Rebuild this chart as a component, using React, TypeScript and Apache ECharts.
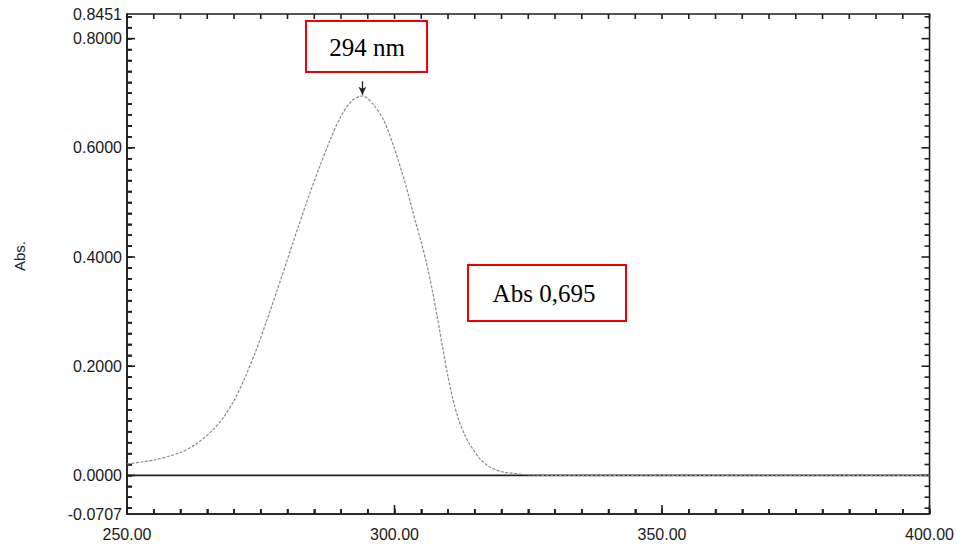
import React, { useEffect, useRef } from "react";
import * as echarts from "echarts";

// Spectrum: wavelength (nm) and absorbance
const wavelengths = [250, 255, 260, 263, 266, 268, 270, 272, 274, 276, 278, 280, 282, 284, 286, 288, 290, 292, 294, 296, 298, 300, 302, 304, 305, 306, 307, 308, 309, 310, 311, 312, 313, 314, 316, 318, 320, 322, 325, 330, 400];
const absorbance = [0.021, 0.028, 0.042, 0.058, 0.083, 0.106, 0.137, 0.178, 0.226, 0.280, 0.337, 0.396, 0.455, 0.512, 0.565, 0.615, 0.658, 0.686, 0.695, 0.680, 0.650, 0.598, 0.535, 0.462, 0.427, 0.388, 0.342, 0.290, 0.234, 0.181, 0.136, 0.102, 0.077, 0.058, 0.030, 0.014, 0.007, 0.004, 0.001, 0, 0];

const xMin = 250;
const xMax = 400;
const xLabelStep = 50;
const xTickStep = 5;
const yMin = -0.0707;
const yMax = 0.8451;
const yLabelValues = [-0.0707, 0, 0.2, 0.4, 0.6, 0.8, 0.8451];
const yMajorStep = 0.2;
const yTickStep = 0.02;

const xTicks: number[] = [];
for (let v = xMin; v <= xMax; v += xTickStep) xTicks.push(v);
const yTicks: number[] = [];
for (let i = Math.ceil(yMin / yTickStep); i * yTickStep <= yMax; i++) yTicks.push(Math.round(i * yTickStep * 1000) / 1000);

const baselineX = [250, 400];
const baselineY = [0, 0];

const peakWavelength = 294;
const peakAbs = 0.695;
const peakLabel = "294 nm";
const absLabel = "Abs 0,695";

const AXIS_COLOR = "#1e1e1e";
const FONT = "'Liberation Sans', Arial, sans-serif";

const isMultiple = (v: number, step: number) => Math.abs(v / step - Math.round(v / step)) < 1e-6;

// one custom series per frame side; each item draws a single inward tick line
const tickSeries = (side: "bottom" | "top" | "left" | "right") => {
  const horizontal = side === "bottom" || side === "top";
  const values = horizontal ? xTicks : yTicks;
  return {
    type: "custom",
    data: values.map((v) => (horizontal ? [v, 0.4] : [325, v])),
    renderItem: (_p: any, api: any) => {
      if (horizontal) {
        const v = api.value(0);
        const len = side === "bottom" && isMultiple(v - xMin, xLabelStep) ? 9 : 5;
        const p = api.coord([v, side === "bottom" ? yMin : yMax]);
        const dir = side === "bottom" ? -1 : 1;
        return { type: "line", shape: { x1: p[0], y1: p[1], x2: p[0], y2: p[1] + dir * len }, style: { stroke: AXIS_COLOR, lineWidth: 1.6 } };
      }
      const v = api.value(1);
      const len = isMultiple(v, yMajorStep) ? 8 : 5;
      const p = api.coord([side === "left" ? xMin : xMax, v]);
      const dir = side === "left" ? 1 : -1;
      return { type: "line", shape: { x1: p[0], y1: p[1], x2: p[0] + dir * len, y2: p[1] }, style: { stroke: AXIS_COLOR, lineWidth: 1.6 } };
    },
  };
};

export default function App() {
  const ref = useRef<HTMLDivElement>(null);
  useEffect(() => {
    if (!ref.current) return;
    const chart = echarts.init(ref.current, undefined, { renderer: "svg" });

    const data = wavelengths.map((w, i) => [w, absorbance[i]]);
    const baseline = baselineX.map((x, i) => [x, baselineY[i]]);

    chart.setOption({
      animation: false,
      grid: {
        left: 127,
        right: 27,
        top: 14,
        bottom: 30,
        show: true,
        borderColor: AXIS_COLOR,
        borderWidth: 1.6,
      },
      xAxis: {
        type: "value",
        min: xMin,
        max: xMax,
        interval: xTickStep,
        splitLine: { show: false },
        axisLine: { show: true, onZero: false, lineStyle: { color: AXIS_COLOR, width: 1.6 } },
        axisTick: { show: true, inside: true, length: 5, lineStyle: { color: AXIS_COLOR, width: 1.6 } },
        axisLabel: {
          margin: 12,
          color: "#1a1a1a",
          fontFamily: FONT,
          fontSize: 16,
          formatter: (v: number) => (isMultiple(v - xMin, xLabelStep) ? v.toFixed(2) : ""),
        },
      },
      yAxis: {
        type: "value",
        min: yMin,
        max: yMax,
        splitLine: { show: false },
        axisLine: { show: true, onZero: false, lineStyle: { color: AXIS_COLOR, width: 1.6 } },
        axisTick: { show: true, inside: true, length: 5, customValues: yTicks, lineStyle: { color: AXIS_COLOR, width: 1.6 } },
        axisLabel: {
          customValues: yLabelValues,
          margin: 5,
          color: "#1a1a1a",
          fontFamily: FONT,
          fontSize: 16,
          formatter: (v: number) => v.toFixed(4),
        },
      },
      series: [
        {
          type: "line",
          data: baseline,
          symbol: "none",
          lineStyle: { color: "#222", width: 1.6 },
        },
        {
          type: "line",
          data,
          symbol: "none",
          smooth: 0.3,
          lineStyle: { color: "#8a8a8a", width: 1.2, type: [3, 1.5] },
          markLine: {
            symbol: ["none", "arrow"],
            symbolSize: [6, 8],
            label: { show: false },
            lineStyle: { color: "#222", width: 1.3, type: "solid" },
            data: [[{ coord: [peakWavelength, 0.722] }, { coord: [peakWavelength, peakAbs + 0.002] }]],
          },
        },
        tickSeries("bottom"),
        tickSeries("top"),
        tickSeries("left"),
        tickSeries("right"),
      ],
      graphic: [
        {
          type: "rect",
          shape: { x: 306, y: 21, width: 121, height: 51 },
          style: { fill: "#ffffff", stroke: "#f00000", lineWidth: 2 },
        },
        {
          type: "text",
          x: 367,
          y: 47,
          style: {
            text: peakLabel,
            fill: "#000",
            font: "25px 'Liberation Serif', 'Times New Roman', serif",
            align: "center",
            verticalAlign: "middle",
          },
        },
        {
          type: "rect",
          shape: { x: 468, y: 265, width: 158, height: 56 },
          style: { fill: "#ffffff", stroke: "#f00000", lineWidth: 2 },
        },
        {
          type: "text",
          x: 544,
          y: 293,
          style: {
            text: absLabel,
            fill: "#000",
            font: "25px 'Liberation Serif', 'Times New Roman', serif",
            align: "center",
            verticalAlign: "middle",
          },
        },
        {
          type: "text",
          x: 19,
          y: 256,
          rotation: Math.PI / 2,
          style: {
            text: "Abs.",
            fill: "#222",
            font: "15px 'Liberation Sans', Arial, sans-serif",
            align: "center",
            verticalAlign: "middle",
          },
        },
      ],
    });
    return () => chart.dispose();
  }, []);
  return <div ref={ref} style={{ width: 957, height: 544, position: "absolute", left: 0, top: 0 }} />;
}
